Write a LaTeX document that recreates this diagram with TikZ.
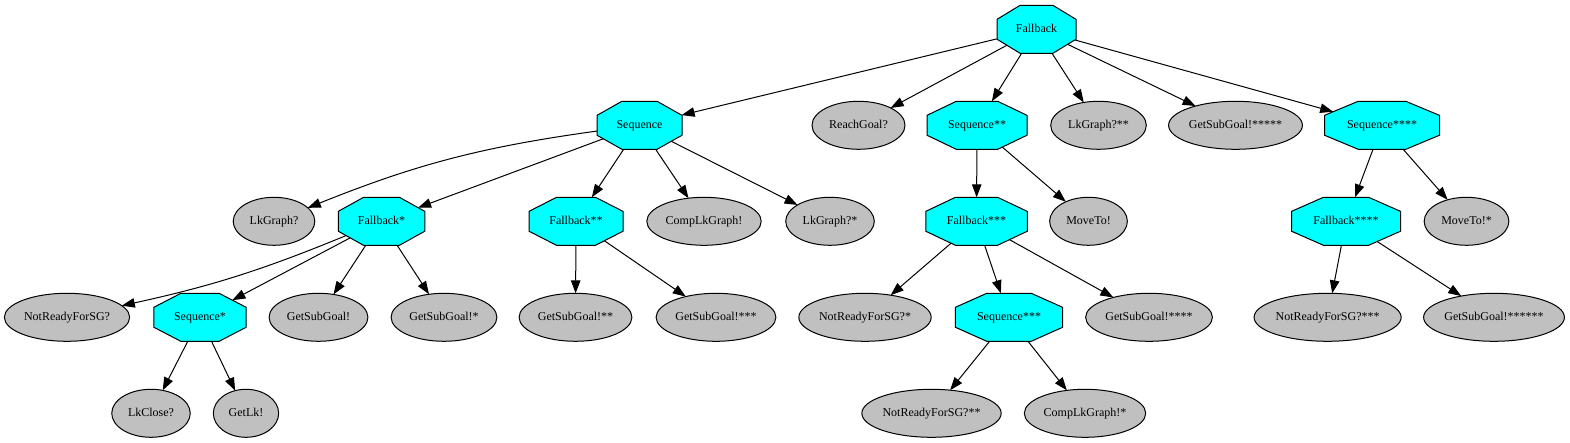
\documentclass[tikz,border=0pt]{standalone}
\usepackage{fontspec}
\setmainfont{Liberation Serif}
\usetikzlibrary{arrows.meta,shapes.geometric}
\definecolor{leafgray}{HTML}{C0C0C0}
\definecolor{octcyan}{HTML}{00FFFF}
\makeatletter
\pgfdeclareshape{octo}{%
  \inheritsavedanchors[from=rectangle]%
  \inheritanchor[from=rectangle]{center}%
  \inheritanchor[from=rectangle]{north}%
  \inheritanchor[from=rectangle]{south}%
  \inheritanchor[from=rectangle]{east}%
  \inheritanchor[from=rectangle]{west}%
  \inheritanchor[from=rectangle]{base}%
  \inheritanchor[from=rectangle]{mid}%
  \backgroundpath{%
    \southwest\edef\oct@xa{\the\pgf@x}\edef\oct@ya{\the\pgf@y}%
    \northeast\edef\oct@xb{\the\pgf@x}\edef\oct@yb{\the\pgf@y}%
    \pgfmathsetmacro\oct@cx{0.29289*((\oct@xb)-(\oct@xa))}%
    \pgfmathsetmacro\oct@cy{0.29289*((\oct@yb)-(\oct@ya))}%
    \pgfpathmoveto{\pgfpoint{\oct@xa}{(\oct@ya)+(\oct@cy)}}%
    \pgfpathlineto{\pgfpoint{(\oct@xa)+(\oct@cx)}{\oct@ya}}%
    \pgfpathlineto{\pgfpoint{(\oct@xb)-(\oct@cx)}{\oct@ya}}%
    \pgfpathlineto{\pgfpoint{\oct@xb}{(\oct@ya)+(\oct@cy)}}%
    \pgfpathlineto{\pgfpoint{\oct@xb}{(\oct@yb)-(\oct@cy)}}%
    \pgfpathlineto{\pgfpoint{(\oct@xb)-(\oct@cx)}{\oct@yb}}%
    \pgfpathlineto{\pgfpoint{(\oct@xa)+(\oct@cx)}{\oct@yb}}%
    \pgfpathlineto{\pgfpoint{\oct@xa}{(\oct@yb)-(\oct@cy)}}%
    \pgfpathclose
  }%
  \anchorborder{%
    \edef\oct@dx{\the\pgf@x}\edef\oct@dy{\the\pgf@y}%
    \southwest\edef\oct@xa{\the\pgf@x}\edef\oct@ya{\the\pgf@y}%
    \northeast\edef\oct@xb{\the\pgf@x}\edef\oct@yb{\the\pgf@y}%
    \pgfmathsetmacro\oct@a{((\oct@xb)-(\oct@xa))/2}%
    \pgfmathsetmacro\oct@b{((\oct@yb)-(\oct@ya))/2}%
    \pgfmathsetmacro\oct@mx{((\oct@xb)+(\oct@xa))/2}%
    \pgfmathsetmacro\oct@my{((\oct@yb)+(\oct@ya))/2}%
    \pgfmathsetmacro\oct@len{max(veclen(\oct@dx,\oct@dy),0.001)}%
    \pgfmathsetmacro\oct@ux{(\oct@dx)/\oct@len}%
    \pgfmathsetmacro\oct@uy{(\oct@dy)/\oct@len}%
    \pgfmathsetmacro\oct@t{min(\oct@a/max(abs(\oct@ux),0.01),\oct@b/max(abs(\oct@uy),0.01),1.41421*\oct@a*\oct@b/(\oct@b*abs(\oct@ux)+\oct@a*abs(\oct@uy)))}%
    \pgfpoint{(\oct@mx)+(\oct@t)*(\oct@ux)}{(\oct@my)+(\oct@t)*(\oct@uy)}%
  }%
}
\makeatother
\tikzset{
  base/.style={draw=black, line width=1pt, inner sep=0pt, outer sep=0pt,
    minimum height=48pt, text height=10pt, text depth=3pt,
    font=\fontsize{12pt}{14pt}\selectfont},
  leaf/.style={base, ellipse, fill=leafgray, minimum width=#1},
  ctrl/.style={base, octo, fill=octcyan, minimum width=#1},
  link/.style={draw=black, line width=1pt, -{Triangle[length=13pt,width=9.5pt]}}
}
\begin{document}
\begin{tikzpicture}[x=1pt,y=1pt]
\useasboundingbox (0,0) rectangle (1570,443);
% rank 1
\node[ctrl=79pt] (fb) at (1036.5,413.7) {Fallback};
% rank 2
\node[ctrl=85pt] (seq) at (639.5,317.7) {Sequence};
\node[leaf=93pt] (reach) at (858.5,317.7) {ReachGoal?};
\node[ctrl=100pt] (seq2) at (977,317.7) {Sequence**};
\node[leaf=95.6pt] (lkg2) at (1098.5,317.7) {LkGraph?**};
\node[leaf=133.8pt] (gsg5) at (1235.5,317.7) {GetSubGoal!*****};
\node[ctrl=115pt] (seq4) at (1382,317.7) {Sequence****};
% rank 3
\node[leaf=81.6pt] (lkg) at (274,221.7) {LkGraph?};
\node[ctrl=86.5pt] (fb1) at (381.5,221.7) {Fallback*};
\node[ctrl=94pt] (fb2) at (576,221.7) {Fallback**};
\node[leaf=114.4pt] (clg) at (704,221.7) {CompLkGraph!};
\node[leaf=88.6pt] (lkg1) at (830,221.7) {LkGraph?*};
\node[ctrl=101.5pt] (fb3) at (976.5,221.7) {Fallback***};
\node[leaf=77.7pt] (move) at (1088.5,221.7) {MoveTo!};
\node[ctrl=109pt] (fb4) at (1346,221.7) {Fallback****};
\node[leaf=84.7pt] (move1) at (1466.5,221.7) {MoveTo!*};
% rank 4
\node[leaf=125.3pt] (nrs) at (67,125.7) {NotReadyForSG?};
\node[ctrl=92.4pt] (seq1) at (200,125.7) {Sequence*};
\node[leaf=98.8pt] (gsg) at (318.5,125.7) {GetSubGoal!};
\node[leaf=105.8pt] (gsg1) at (444,125.7) {GetSubGoal!*};
\node[leaf=112.8pt] (gsg2) at (575.5,125.7) {GetSubGoal!**};
\node[leaf=119.8pt] (gsg3) at (716,125.7) {GetSubGoal!***};
\node[leaf=132.3pt] (nrs1) at (865,125.7) {NotReadyForSG?*};
\node[ctrl=107.4pt] (seq3) at (1009,125.7) {Sequence***};
\node[leaf=126.8pt] (gsg4) at (1149,125.7) {GetSubGoal!****};
\node[leaf=146.3pt] (nrs3) at (1327.6,125.7) {NotReadyForSG?***};
\node[leaf=140.8pt] (gsg6) at (1494,125.7) {GetSubGoal!******};
% rank 5
\node[leaf=78.5pt] (lkc) at (151,29.7) {LkClose?};
\node[leaf=65.3pt] (getlk) at (246,29.7) {GetLk!};
\node[leaf=139.3pt] (nrs2) at (931.5,29.7) {NotReadyForSG?**};
\node[leaf=121.4pt] (clg1) at (1085,29.7) {CompLkGraph!*};
% edges
\draw[link] (fb) -- (seq);
\draw[link] (fb) -- (reach);
\draw[link] (fb) -- (seq2);
\draw[link] (fb) -- (lkg2);
\draw[link] (fb) -- (gsg5);
\draw[link] (fb) -- (seq4);
\draw[link] (seq) to[bend right=7] (lkg);
\draw[link] (seq) -- (fb1);
\draw[link] (seq) -- (fb2);
\draw[link] (seq) -- (clg);
\draw[link] (seq) -- (lkg1);
\draw[link] (fb1) to[bend left=5] (nrs);
\draw[link] (fb1) -- (seq1);
\draw[link] (fb1) -- (gsg);
\draw[link] (fb1) -- (gsg1);
\draw[link] (seq1) -- (lkc);
\draw[link] (seq1) -- (getlk);
\draw[link] (fb2) -- (gsg2);
\draw[link] (fb2) -- (gsg3);
\draw[link] (seq2) -- (fb3);
\draw[link] (seq2) -- (move);
\draw[link] (fb3) -- (nrs1);
\draw[link] (fb3) -- (seq3);
\draw[link] (fb3) -- (gsg4);
\draw[link] (seq3) -- (nrs2);
\draw[link] (seq3) -- (clg1);
\draw[link] (seq4) -- (fb4);
\draw[link] (seq4) -- (move1);
\draw[link] (fb4) -- (nrs3);
\draw[link] (fb4) -- (gsg6);
\end{tikzpicture}
\end{document}
